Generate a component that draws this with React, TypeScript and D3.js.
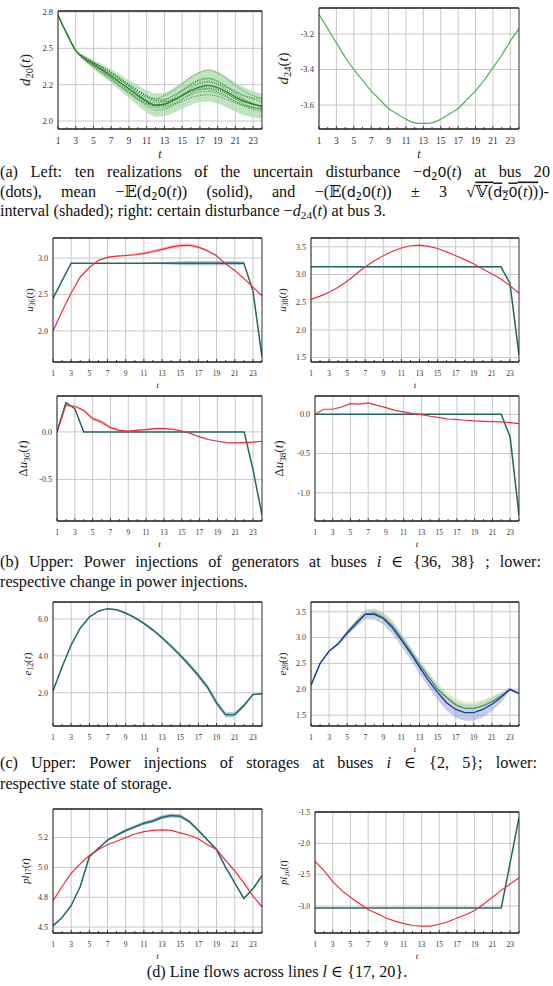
import React, { useRef, useLayoutEffect, useState } from "react";
import * as d3 from "d3";

// ---------- shared axis data ----------
const T = [1, 2, 3, 4, 5, 6, 7, 8, 9, 10, 11, 12, 13, 14, 15, 16, 17, 18, 19, 20, 21, 22, 23, 24];
const X_TICKS = [1, 3, 5, 7, 9, 11, 13, 15, 17, 19, 21, 23];

// ---------- (a) disturbances ----------
const d20Mean = [2.73, 2.6, 2.485, 2.43, 2.39, 2.35, 2.31, 2.265, 2.22, 2.175, 2.135, 2.11, 2.115, 2.14, 2.175, 2.21, 2.235, 2.245, 2.23, 2.2, 2.165, 2.135, 2.115, 2.1];
const d20Band = [0, 0, 0.005, 0.02, 0.03, 0.04, 0.045, 0.055, 0.06, 0.07, 0.075, 0.08, 0.08, 0.085, 0.09, 0.1, 0.105, 0.11, 0.11, 0.105, 0.1, 0.095, 0.09, 0.085];
const d20Real1 = [2.73, 2.6, 2.485, 2.435, 2.4, 2.365, 2.33, 2.285, 2.245, 2.205, 2.17, 2.155, 2.175, 2.21, 2.255, 2.3, 2.335, 2.35, 2.33, 2.29, 2.245, 2.205, 2.175, 2.155];
const d20Real2 = [2.73, 2.6, 2.485, 2.44, 2.405, 2.37, 2.335, 2.295, 2.25, 2.21, 2.175, 2.15, 2.15, 2.175, 2.215, 2.255, 2.285, 2.295, 2.275, 2.24, 2.205, 2.17, 2.15, 2.13];
const d20Real3 = [2.73, 2.6, 2.485, 2.435, 2.4, 2.36, 2.32, 2.28, 2.24, 2.195, 2.16, 2.14, 2.145, 2.175, 2.21, 2.24, 2.265, 2.275, 2.255, 2.23, 2.2, 2.175, 2.16, 2.15];
const d20Real4 = [2.73, 2.6, 2.485, 2.43, 2.395, 2.355, 2.31, 2.265, 2.225, 2.185, 2.145, 2.125, 2.13, 2.15, 2.185, 2.225, 2.255, 2.265, 2.25, 2.215, 2.175, 2.145, 2.12, 2.105];
const d20Real5 = [2.73, 2.6, 2.485, 2.425, 2.385, 2.34, 2.3, 2.255, 2.205, 2.16, 2.125, 2.105, 2.115, 2.145, 2.18, 2.21, 2.23, 2.235, 2.22, 2.19, 2.15, 2.115, 2.095, 2.08];
const d20Real6 = [2.73, 2.6, 2.485, 2.42, 2.375, 2.33, 2.29, 2.24, 2.195, 2.145, 2.105, 2.075, 2.08, 2.11, 2.15, 2.19, 2.215, 2.22, 2.2, 2.17, 2.135, 2.1, 2.08, 2.065];
const d20Real7 = [2.73, 2.6, 2.485, 2.44, 2.405, 2.37, 2.33, 2.285, 2.235, 2.185, 2.14, 2.11, 2.105, 2.12, 2.15, 2.18, 2.2, 2.205, 2.19, 2.165, 2.135, 2.11, 2.095, 2.085];
const d20Real8 = [2.73, 2.6, 2.485, 2.425, 2.38, 2.34, 2.295, 2.245, 2.2, 2.155, 2.115, 2.095, 2.095, 2.11, 2.135, 2.16, 2.175, 2.18, 2.17, 2.15, 2.125, 2.105, 2.09, 2.08];
const d20Real9 = [2.73, 2.6, 2.485, 2.435, 2.4, 2.37, 2.335, 2.295, 2.255, 2.21, 2.17, 2.14, 2.135, 2.15, 2.175, 2.2, 2.22, 2.225, 2.21, 2.185, 2.155, 2.13, 2.115, 2.105];
const d20Real10 = [2.73, 2.6, 2.485, 2.42, 2.37, 2.325, 2.28, 2.235, 2.19, 2.15, 2.12, 2.105, 2.12, 2.16, 2.205, 2.25, 2.28, 2.29, 2.27, 2.235, 2.19, 2.15, 2.12, 2.095];
const d20Realizations = [d20Real1, d20Real2, d20Real3, d20Real4, d20Real5, d20Real6, d20Real7, d20Real8, d20Real9, d20Real10];
const d24 = [-3.09, -3.17, -3.25, -3.33, -3.4, -3.46, -3.52, -3.57, -3.62, -3.65, -3.68, -3.7, -3.703, -3.7, -3.68, -3.65, -3.62, -3.57, -3.52, -3.46, -3.39, -3.32, -3.24, -3.17];

// ---------- (b) generators ----------
const u36Red = [2.0, 2.27, 2.52, 2.74, 2.87, 2.97, 3.01, 3.025, 3.035, 3.045, 3.065, 3.09, 3.12, 3.15, 3.17, 3.175, 3.15, 3.1, 3.03, 2.92, 2.83, 2.72, 2.6, 2.48];
const u36RedBand = [0, 0, 0, 0, 0, 0.005, 0.01, 0.01, 0.012, 0.015, 0.018, 0.02, 0.022, 0.025, 0.025, 0.025, 0.02, 0.015, 0.01, 0.008, 0.005, 0.005, 0.005, 0.005];
const u36Teal = [2.445, 2.69, 2.93, 2.93, 2.93, 2.93, 2.93, 2.93, 2.93, 2.93, 2.93, 2.93, 2.93, 2.93, 2.93, 2.93, 2.93, 2.93, 2.93, 2.93, 2.93, 2.93, 2.55, 1.64];
const u36Band = [0, 0, 0, 0, 0, 0, 0, 0, 0, 0, 0.005, 0.01, 0.015, 0.02, 0.025, 0.03, 0.03, 0.03, 0.03, 0.03, 0.03, 0.02, 0, 0];
const u38Red = [2.55, 2.61, 2.68, 2.77, 2.88, 3.01, 3.14, 3.25, 3.34, 3.42, 3.48, 3.52, 3.53, 3.51, 3.47, 3.41, 3.34, 3.27, 3.19, 3.1, 3.01, 2.92, 2.8, 2.66];
const u38Teal = [3.14, 3.14, 3.14, 3.14, 3.14, 3.14, 3.14, 3.14, 3.14, 3.14, 3.14, 3.14, 3.14, 3.14, 3.14, 3.14, 3.14, 3.14, 3.14, 3.14, 3.14, 3.14, 2.84, 1.55];
const u38Band = [0, 0, 0, 0.01, 0.01, 0.012, 0.012, 0.015, 0.015, 0.015, 0.015, 0.015, 0.015, 0.015, 0.015, 0.015, 0.015, 0.015, 0.015, 0.015, 0.015, 0.015, 0.01, 0];
const du36Red = [0, 0.28, 0.27, 0.227, 0.14, 0.105, 0.045, 0.017, 0.01, 0.017, 0.024, 0.035, 0.035, 0.028, 0.01, -0.017, -0.052, -0.08, -0.098, -0.112, -0.115, -0.112, -0.108, -0.098];
const du36RedBand = [0, 0, 0.005, 0.01, 0.015, 0.02, 0.015, 0.01, 0.008, 0.01, 0.01, 0.012, 0.012, 0.01, 0.008, 0.006, 0.005, 0.005, 0.005, 0.005, 0.005, 0.005, 0.005, 0.005];
const du36Teal = [0, 0.308, 0.245, 0, 0, 0, 0, 0, 0, 0, 0, 0, 0, 0, 0, 0, 0, 0, 0, 0, 0, 0, -0.4, -0.874];
const du38Red = [0, 0.064, 0.064, 0.093, 0.136, 0.13, 0.144, 0.114, 0.085, 0.05, 0.03, 0.008, -0.004, -0.025, -0.042, -0.06, -0.068, -0.076, -0.085, -0.09, -0.093, -0.097, -0.106, -0.119];
const du38Teal = [0, 0, 0, 0, 0, 0, 0, 0, 0, 0, 0, 0, 0, 0, 0, 0, 0, 0, 0, 0, 0, 0, -0.29, -1.29];

// ---------- (c) storages ----------
const e12Teal = [2.1, 3.4, 4.6, 5.5, 6.1, 6.42, 6.56, 6.5, 6.32, 6.07, 5.76, 5.4, 4.98, 4.52, 4.03, 3.5, 2.93, 2.3, 1.45, 0.8, 0.82, 1.3, 1.9, 1.95];
const e12Band = [0, 0, 0, 0, 0, 0.02, 0.03, 0.04, 0.05, 0.06, 0.07, 0.08, 0.09, 0.1, 0.11, 0.12, 0.13, 0.14, 0.15, 0.15, 0.14, 0.1, 0.03, 0.02];
const e28Green = [2.08, 2.5, 2.74, 2.88, 3.1, 3.3, 3.46, 3.48, 3.39, 3.23, 2.99, 2.74, 2.48, 2.24, 2.0, 1.84, 1.7, 1.63, 1.63, 1.68, 1.76, 1.87, 2.0, 1.92];
const e28GreenBand = [0, 0.01, 0.02, 0.03, 0.04, 0.06, 0.08, 0.09, 0.1, 0.1, 0.1, 0.1, 0.1, 0.1, 0.11, 0.12, 0.13, 0.13, 0.13, 0.12, 0.1, 0.08, 0.03, 0.02];
const e28Blue = [2.08, 2.5, 2.74, 2.88, 3.09, 3.27, 3.45, 3.45, 3.37, 3.19, 2.95, 2.7, 2.43, 2.17, 1.94, 1.74, 1.61, 1.55, 1.55, 1.61, 1.71, 1.84, 2.0, 1.92];
const e28BlueBand = [0, 0.01, 0.02, 0.03, 0.05, 0.07, 0.09, 0.1, 0.11, 0.12, 0.12, 0.12, 0.13, 0.13, 0.14, 0.15, 0.16, 0.16, 0.16, 0.15, 0.13, 0.1, 0.03, 0.02];

// ---------- (d) line flows ----------
const pl17Red = [4.72, 4.84, 4.95, 5.03, 5.1, 5.15, 5.19, 5.22, 5.25, 5.28, 5.3, 5.31, 5.315, 5.31, 5.29, 5.27, 5.24, 5.19, 5.15, 5.06, 4.97, 4.87, 4.76, 4.67];
const pl17Teal = [4.51, 4.58, 4.68, 4.84, 5.09, 5.16, 5.23, 5.27, 5.31, 5.34, 5.37, 5.39, 5.42, 5.435, 5.43, 5.385, 5.31, 5.23, 5.15, 5.0, 4.87, 4.74, 4.82, 4.93];
const pl17Band = [0, 0, 0, 0, 0, 0.005, 0.008, 0.01, 0.012, 0.014, 0.015, 0.016, 0.017, 0.018, 0.018, 0.015, 0.012, 0.01, 0.008, 0.006, 0.005, 0.004, 0.003, 0.003];
const pl20Red = [-2.29, -2.43, -2.61, -2.75, -2.86, -2.96, -3.06, -3.12, -3.19, -3.24, -3.28, -3.31, -3.32, -3.32, -3.29, -3.25, -3.19, -3.14, -3.07, -2.97, -2.86, -2.75, -2.65, -2.55];
const pl20Teal = [-3.03, -3.03, -3.03, -3.03, -3.03, -3.03, -3.03, -3.03, -3.03, -3.03, -3.03, -3.03, -3.03, -3.03, -3.03, -3.03, -3.03, -3.03, -3.03, -3.03, -3.03, -3.03, -2.31, -1.59];

// ---------- y ticks ----------
const aLTicks = [2.0, 2.25, 2.5, 2.75];
const aLTickLabels = ["2.0", "2.2", "2.5", "2.8"];
const aRTicks = [-3.6, -3.4, -3.2];
const aRTickLabels = ["-3.6", "-3.4", "-3.2"];
const bULTicks = [2.0, 2.5, 3.0];
const bULTickLabels = ["2.0", "2.5", "3.0"];
const bURTicks = [1.5, 2.0, 2.5, 3.0, 3.5];
const bURTickLabels = ["1.5", "2.0", "2.5", "3.0", "3.5"];
const bLLTicks = [-0.5, 0.0];
const bLLTickLabels = ["-0.5", "0.0"];
const bLRTicks = [-1.0, -0.5, 0.0];
const bLRTickLabels = ["-1.0", "-0.5", "0.0"];
const cLTicks = [2, 4, 6];
const cLTickLabels = ["2.0", "4.0", "6.0"];
const cRTicks = [1.5, 2.0, 2.5, 3.0, 3.5];
const cRTickLabels = ["1.5", "2.0", "2.5", "3.0", "3.5"];
const dLTicks = [4.5, 4.75, 5.0, 5.25];
const dLTickLabels = ["4.5", "4.8", "5.0", "5.2"];
const dRTicks = [-3.0, -2.5, -2.0, -1.5];
const dRTickLabels = ["-3.0", "-2.5", "-2.0", "-1.5"];

// ---------- styling ----------
const SERIF = "'Liberation Serif', 'DejaVu Serif', serif";
const RED = "#ee2d3c";
const TEAL = "#22695c";
const GRID = "#c2c2c2";

type Sc = d3.ScaleLinear<number, number>;

function linePath(x: Sc, y: Sc, vals: number[], smooth = false) {
  const g = d3
    .line<number>()
    .x((_, i) => x(T[i]))
    .y((v) => y(v));
  if (smooth) g.curve(d3.curveMonotoneX);
  return g(vals) || "";
}
function bandPath(x: Sc, y: Sc, vals: number[], hw: number[], smooth = false) {
  const g = d3
    .area<number>()
    .x((_, i) => x(T[i]))
    .y0((v, i) => y(v - hw[i]))
    .y1((v, i) => y(v + hw[i]));
  if (smooth) g.curve(d3.curveMonotoneX);
  return g(vals) || "";
}

type PanelProps = {
  id: string;
  l: number;
  r: number;
  t: number;
  b: number;
  yDomain: [number, number];
  yTicks: number[];
  yTickLabels: string[];
  yTickFs: number;
  xTickFs: number;
  xTickDy: number;
  tDy: number;
  tFs: number;
  yLabel: React.ReactNode;
  yLabelX: number;
  yLabelFs: number;
  render: (x: Sc, y: Sc) => React.ReactNode;
};

function Panel(p: PanelProps) {
  const x = d3.scaleLinear().domain([1, 24]).range([p.l, p.r]);
  const y = d3.scaleLinear().domain(p.yDomain).range([p.b, p.t]);
  const cy = (p.t + p.b) / 2;
  return (
    <g>
      <defs>
        <clipPath id={p.id}>
          <rect x={p.l} y={p.t} width={p.r - p.l} height={p.b - p.t} />
        </clipPath>
      </defs>
      {X_TICKS.map((v) => (
        <line key={"gx" + v} x1={x(v)} x2={x(v)} y1={p.t} y2={p.b} stroke={GRID} strokeWidth={0.9} />
      ))}
      {p.yTicks.map((v) => (
        <line key={"gy" + v} x1={p.l} x2={p.r} y1={y(v)} y2={y(v)} stroke={GRID} strokeWidth={0.9} />
      ))}
      <g clipPath={`url(#${p.id})`}>{p.render(x, y)}</g>
      <line x1={p.l} x2={p.r} y1={p.t} y2={p.t} stroke="#1a1a1a" strokeWidth={1.3} />
      <line x1={p.l} x2={p.r} y1={p.b} y2={p.b} stroke="#1a1a1a" strokeWidth={1.3} />
      <line x1={p.l} x2={p.l} y1={p.t} y2={p.b} stroke="#1a1a1a" strokeWidth={0.9} />
      <line x1={p.r} x2={p.r} y1={p.t} y2={p.b} stroke="#1a1a1a" strokeWidth={0.9} />
      {T.map((v) => (
        <line key={"mt" + v} x1={x(v)} x2={x(v)} y1={p.b} y2={p.b - (v % 2 === 1 ? 3 : 2)} stroke="#1a1a1a" strokeWidth={0.8} />
      ))}
      {X_TICKS.map((v) => (
        <text key={"xl" + v} x={x(v)} y={p.b + p.xTickDy} fontSize={p.xTickFs} textAnchor="middle" fill="#333" fontFamily={SERIF}>
          {v}
        </text>
      ))}
      {p.yTicks.map((v, i) => (
        <text key={"yl" + v} x={p.l - 5} y={y(v)} dy="0.35em" fontSize={p.yTickFs} textAnchor="end" fill="#333" fontFamily={SERIF}>
          {p.yTickLabels[i]}
        </text>
      ))}
      <text x={(p.l + p.r) / 2} y={p.b + p.tDy} fontSize={p.tFs} textAnchor="middle" fontStyle="italic" fill="#222" fontFamily={SERIF}>
        t
      </text>
      <text
        transform={`translate(${p.yLabelX},${cy}) rotate(-90)`}
        fontSize={p.yLabelFs}
        textAnchor="middle"
        fill="#222"
        fontFamily={SERIF}
      >
        {p.yLabel}
      </text>
    </g>
  );
}

function YLab({ pre, main, sub, fs }: { pre?: string; main: string; sub: string; fs: number }) {
  return (
    <>
      {pre ? <tspan>{pre}</tspan> : null}
      <tspan fontStyle="italic">{main}</tspan>
      <tspan fontSize={fs * 0.7} dy={fs * 0.22}>
        {sub}
      </tspan>
      <tspan dy={-fs * 0.22}>(</tspan>
      <tspan fontStyle="italic">t</tspan>
      <tspan>)</tspan>
    </>
  );
}

function JLine({ x, y, width, fs, children, justify = true }: { x: number; y: number; width: number; fs: number; children: React.ReactNode; justify?: boolean }) {
  const ref = useRef<SVGTextElement>(null);
  const [ws, setWs] = useState(0);
  useLayoutEffect(() => {
    const el = ref.current;
    if (!el || !justify) return;
    const natural = el.getComputedTextLength();
    const spaces = ((el.textContent || "").match(/ /g) || []).length;
    if (spaces > 0) setWs(Math.max(0, (width - natural) / spaces));
  }, [width, justify]);
  return (
    <text ref={ref} x={x} y={y} fontSize={fs} fontFamily={SERIF} fill="#111" style={{ wordSpacing: `${ws}px` }} xmlSpace="preserve">
      {children}
    </text>
  );
}

const CAP = 16.2;
function Dsans({ sub, post }: { sub: string; post: string }) {
  return (
    <>
      <tspan fontFamily="'DejaVu Sans', sans-serif" fontSize={CAP * 0.88}>d</tspan>
      <tspan fontFamily="'DejaVu Sans', sans-serif" fontSize={CAP * 0.6} dy={3}>{sub}</tspan>
      <tspan fontFamily="'DejaVu Sans', sans-serif" fontSize={CAP * 0.88} dy={-3}>{post}</tspan>
    </>
  );
}
function It({ children }: { children: React.ReactNode }) {
  return <tspan fontStyle="italic">{children}</tspan>;
}

export default function App() {
  const smallLab = 11;
  const deltaLab = 13;
  return (
    <svg width={553} height={986} style={{ position: "absolute", left: 0, top: 0, background: "#fff" }}>
      <rect x={0} y={0} width={553} height={986} fill="#fff" />
      {/* (a) left */}
      <Panel
        id="aL" l={58} r={262} t={11} b={129}
        yDomain={[1.945, 2.757]} yTicks={aLTicks} yTickLabels={aLTickLabels}
        yTickFs={8.5} xTickFs={9.5} xTickDy={15} tDy={29} tFs={12}
        yLabel={<YLab main="d" sub="20" fs={15} />} yLabelX={30} yLabelFs={15}
        render={(x, y) => (
          <>
            <path d={bandPath(x, y, d20Mean, d20Band, true)} fill="#a8dca8" fillOpacity={0.75} />
            {d20Realizations.map((r, i) => (
              <path key={i} d={linePath(x, y, r, true)} fill="none" stroke="#2f7d32" strokeWidth={0.8} strokeDasharray="1.2,1.2" />
            ))}
            <path d={linePath(x, y, d20Mean, true)} fill="none" stroke="#2f862f" strokeWidth={1.4} />
          </>
        )}
      />
      {/* (a) right */}
      <Panel
        id="aR" l={319} r={519} t={8} b={129}
        yDomain={[-3.735, -3.054]} yTicks={aRTicks} yTickLabels={aRTickLabels}
        yTickFs={8.5} xTickFs={9.5} xTickDy={15} tDy={29} tFs={12}
        yLabel={<YLab main="d" sub="24" fs={15} />} yLabelX={288} yLabelFs={15}
        render={(x, y) => <path d={linePath(x, y, d24, true)} fill="none" stroke="#5aad5a" strokeWidth={1.2} />}
      />
      {/* caption a */}
      <JLine x={0} y={177} width={550} fs={CAP}>
        {"(a) Left: ten realizations of the uncertain disturbance −"}
        <Dsans sub="2" post="0" />
        {"("}<It>t</It>{") at bus 20"}
      </JLine>
      <JLine x={0} y={196.5} width={549} fs={CAP}>
        {"(dots), mean −𝔼("}
        <Dsans sub="2" post="0" />
        {"("}<It>t</It>{")) (solid), and −(𝔼("}
        <Dsans sub="2" post="0" />
        {"("}<It>t</It>{")) ± 3 √"}
        <tspan style={{ textDecoration: "overline" }}>
          {"𝕍("}
          <Dsans sub="2" post="0" />
          {"("}
          <It>t</It>
          {"))"}
        </tspan>
        {")-"}
      </JLine>
      <JLine x={0} y={216} width={0} fs={CAP} justify={false}>
        {"interval (shaded); right: certain disturbance −"}
        <It>d</It>
        <tspan fontSize={CAP * 0.7} dy={3}>24</tspan>
        <tspan dy={-3}>(</tspan>
        <It>t</It>
        {") at bus 3."}
      </JLine>

      {/* (b) upper */}
      <Panel
        id="bUL" l={53} r={262} t={238} b={362}
        yDomain={[1.573, 3.275]} yTicks={bULTicks} yTickLabels={bULTickLabels}
        yTickFs={8} xTickFs={7.5} xTickDy={14} tDy={26} tFs={9}
        yLabel={<YLab main="u" sub="36" fs={smallLab} />} yLabelX={33} yLabelFs={smallLab}
        render={(x, y) => (
          <>
            <path d={bandPath(x, y, u36Red, u36RedBand)} fill="#f4a0a8" fillOpacity={0.6} />
            <path d={bandPath(x, y, u36Teal, u36Band)} fill="#6f9ec4" fillOpacity={0.6} />
            <path d={linePath(x, y, u36Teal)} fill="none" stroke={TEAL} strokeWidth={1.5} />
            <path d={linePath(x, y, u36Red)} fill="none" stroke={RED} strokeWidth={1.2} />
          </>
        )}
      />
      <Panel
        id="bUR" l={311} r={519} t={238} b={362}
        yDomain={[1.42, 3.66]} yTicks={bURTicks} yTickLabels={bURTickLabels}
        yTickFs={8} xTickFs={7.5} xTickDy={14} tDy={26} tFs={9}
        yLabel={<YLab main="u" sub="38" fs={smallLab} />} yLabelX={286} yLabelFs={smallLab}
        render={(x, y) => (
          <>
            <path d={bandPath(x, y, u38Teal, u38Band)} fill="#6f9ec4" fillOpacity={0.6} />
            <path d={linePath(x, y, u38Teal)} fill="none" stroke={TEAL} strokeWidth={1.5} />
            <path d={linePath(x, y, u38Red)} fill="none" stroke={RED} strokeWidth={1.2} />
          </>
        )}
      />
      {/* (b) lower */}
      <Panel
        id="bLL" l={57} r={262} t={396} b={521}
        yDomain={[-0.937, 0.378]} yTicks={bLLTicks} yTickLabels={bLLTickLabels}
        yTickFs={8} xTickFs={7.5} xTickDy={14} tDy={26} tFs={9}
        yLabel={<YLab pre="Δ" main="u" sub="36" fs={deltaLab} />} yLabelX={27} yLabelFs={deltaLab}
        render={(x, y) => (
          <>
            <path d={bandPath(x, y, du36Red, du36RedBand)} fill="#f4a0a8" fillOpacity={0.6} />
            <path d={linePath(x, y, du36Teal)} fill="none" stroke={TEAL} strokeWidth={1.5} />
            <path d={linePath(x, y, du36Red)} fill="none" stroke={RED} strokeWidth={1.2} />
          </>
        )}
      />
      <Panel
        id="bLR" l={315} r={519} t={396} b={521}
        yDomain={[-1.36, 0.233]} yTicks={bLRTicks} yTickLabels={bLRTickLabels}
        yTickFs={8} xTickFs={7.5} xTickDy={14} tDy={26} tFs={9}
        yLabel={<YLab pre="Δ" main="u" sub="38" fs={deltaLab} />} yLabelX={283} yLabelFs={deltaLab}
        render={(x, y) => (
          <>
            <path d={linePath(x, y, du38Teal)} fill="none" stroke={TEAL} strokeWidth={1.5} />
            <path d={linePath(x, y, du38Red)} fill="none" stroke={RED} strokeWidth={1.2} />
          </>
        )}
      />
      {/* caption b */}
      <JLine x={0} y={567} width={541} fs={CAP}>
        {"(b) Upper: Power injections of generators at buses "}
        <It>i</It>
        {" ∈ {36, 38} ; lower:"}
      </JLine>
      <JLine x={0} y={587} width={0} fs={CAP} justify={false}>
        {"respective change in power injections."}
      </JLine>

      {/* (c) */}
      <Panel
        id="cL" l={53} r={262} t={602} b={726}
        yDomain={[0.195, 6.92]} yTicks={cLTicks} yTickLabels={cLTickLabels}
        yTickFs={8} xTickFs={7.5} xTickDy={14} tDy={26} tFs={9}
        yLabel={<YLab main="e" sub="12" fs={smallLab} />} yLabelX={31} yLabelFs={smallLab}
        render={(x, y) => (
          <>
            <path d={bandPath(x, y, e12Teal, e12Band)} fill="#6fa6c8" fillOpacity={0.55} />
            <path d={linePath(x, y, e12Teal)} fill="none" stroke={TEAL} strokeWidth={1.5} />
          </>
        )}
      />
      <Panel
        id="cR" l={311} r={519} t={602} b={726}
        yDomain={[1.29, 3.69]} yTicks={cRTicks} yTickLabels={cRTickLabels}
        yTickFs={8} xTickFs={7.5} xTickDy={14} tDy={26} tFs={9}
        yLabel={<YLab main="e" sub="28" fs={smallLab} />} yLabelX={286} yLabelFs={smallLab}
        render={(x, y) => (
          <>
            <path d={bandPath(x, y, e28Blue, e28BlueBand)} fill="#7d8fdc" fillOpacity={0.45} />
            <path d={bandPath(x, y, e28Green, e28GreenBand)} fill="#c8e0a0" fillOpacity={0.5} />
            <path d={linePath(x, y, e28Green)} fill="none" stroke="#3f9a4a" strokeWidth={1.3} />
            <path d={linePath(x, y, e28Blue)} fill="none" stroke="#1f2ed0" strokeWidth={1.3} />
          </>
        )}
      />
      {/* caption c */}
      <JLine x={0} y={768} width={537} fs={CAP}>
        {"(c) Upper: Power injections of storages at buses "}
        <It>i</It>
        {" ∈ {2, 5}; lower:"}
      </JLine>
      <JLine x={0} y={789} width={0} fs={CAP} justify={false}>
        {"respective state of storage."}
      </JLine>

      {/* (d) */}
      <Panel
        id="dL" l={53} r={262} t={809} b={933}
        yDomain={[4.45, 5.49]} yTicks={dLTicks} yTickLabels={dLTickLabels}
        yTickFs={8} xTickFs={7.5} xTickDy={14} tDy={26} tFs={9}
        yLabel={<YLab main="pl" sub="17" fs={10.5} />} yLabelX={29} yLabelFs={10.5}
        render={(x, y) => (
          <>
            <path d={bandPath(x, y, pl17Teal, pl17Band)} fill="#6f9ec4" fillOpacity={0.6} />
            <path d={linePath(x, y, pl17Teal)} fill="none" stroke={TEAL} strokeWidth={1.5} />
            <path d={linePath(x, y, pl17Red)} fill="none" stroke={RED} strokeWidth={1.2} />
          </>
        )}
      />
      <Panel
        id="dR" l={315} r={519} t={812} b={933}
        yDomain={[-3.43, -1.5]} yTicks={dRTicks} yTickLabels={dRTickLabels}
        yTickFs={7.5} xTickFs={7.5} xTickDy={14} tDy={26} tFs={9}
        yLabel={<YLab main="pl" sub="20" fs={10} />} yLabelX={287} yLabelFs={10}
        render={(x, y) => (
          <>
            <path d={linePath(x, y, pl20Teal)} fill="none" stroke={TEAL} strokeWidth={1.5} />
            <path d={linePath(x, y, pl20Red)} fill="none" stroke={RED} strokeWidth={1.2} />
          </>
        )}
      />
      {/* caption d */}
      <text x={277} y={977} fontSize={CAP} fontFamily={SERIF} textAnchor="middle" fill="#111">
        {"(d) Line flows across lines "}
        <tspan fontStyle="italic">l</tspan>
        {" ∈ {17, 20}."}
      </text>
    </svg>
  );
}
